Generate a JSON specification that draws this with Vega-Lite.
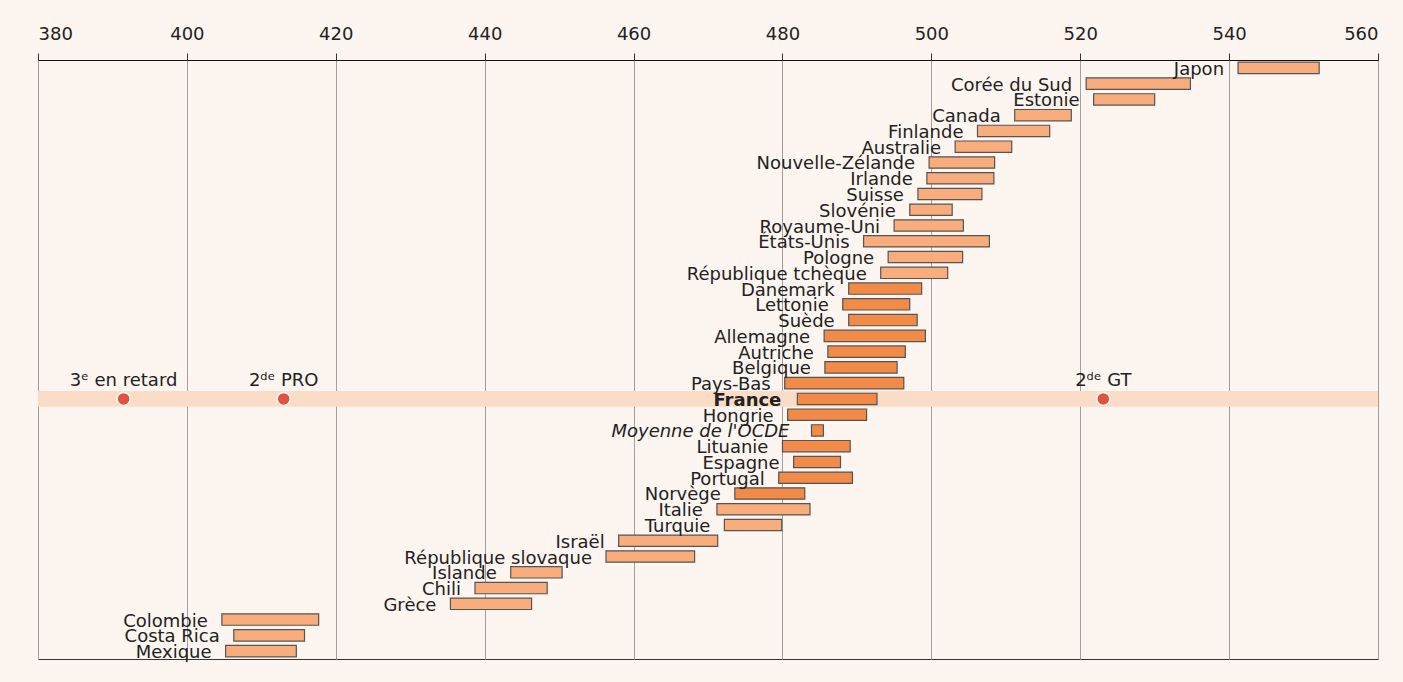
{
  "$schema": "https://vega.github.io/schema/vega-lite/v6.json",
  "width": 1340,
  "height": 599,
  "autosize": {"type": "none"},
  "padding": {"left": 38, "top": 60, "right": 25, "bottom": 23},
  "background": "#fdf5ef",
  "view": {"stroke": "#333333", "strokeWidth": 1},
  "config": {"font": "DejaVu Sans"},
  "datasets": {
    "pays": [
      {"pays": "Japon", "min": 541.2, "max": 552.1, "groupe": "écart"},
      {"pays": "Corée du Sud", "min": 520.8, "max": 534.8, "groupe": "écart"},
      {"pays": "Estonie", "min": 521.8, "max": 530.0, "groupe": "écart"},
      {"pays": "Canada", "min": 511.2, "max": 518.8, "groupe": "écart"},
      {"pays": "Finlande", "min": 506.2, "max": 515.9, "groupe": "écart"},
      {"pays": "Australie", "min": 503.2, "max": 510.8, "groupe": "écart"},
      {"pays": "Nouvelle-Zélande", "min": 499.7, "max": 508.5, "groupe": "écart"},
      {"pays": "Irlande", "min": 499.4, "max": 508.4, "groupe": "écart"},
      {"pays": "Suisse", "min": 498.2, "max": 506.8, "groupe": "écart"},
      {"pays": "Slovénie", "min": 497.1, "max": 502.8, "groupe": "écart"},
      {"pays": "Royaume-Uni", "min": 495.0, "max": 504.3, "groupe": "écart"},
      {"pays": "États-Unis", "min": 490.9, "max": 507.8, "groupe": "écart"},
      {"pays": "Pologne", "min": 494.2, "max": 504.2, "groupe": "écart"},
      {"pays": "République tchèque", "min": 493.2, "max": 502.2, "groupe": "écart"},
      {"pays": "Danemark", "min": 488.9, "max": 498.7, "groupe": "proche"},
      {"pays": "Lettonie", "min": 488.1, "max": 497.1, "groupe": "proche"},
      {"pays": "Suède", "min": 488.9, "max": 498.1, "groupe": "proche"},
      {"pays": "Allemagne", "min": 485.6, "max": 499.2, "groupe": "proche"},
      {"pays": "Autriche", "min": 486.1, "max": 496.5, "groupe": "proche"},
      {"pays": "Belgique", "min": 485.7, "max": 495.4, "groupe": "proche"},
      {"pays": "Pays-Bas", "min": 480.3, "max": 496.3, "groupe": "proche"},
      {"pays": "France", "min": 482.0, "max": 492.7, "groupe": "proche"},
      {"pays": "Hongrie", "min": 480.7, "max": 491.3, "groupe": "proche"},
      {"pays": "Moyenne de l'OCDE", "min": 483.9, "max": 485.5, "groupe": "proche"},
      {"pays": "Lituanie", "min": 480.0, "max": 489.1, "groupe": "proche"},
      {"pays": "Espagne", "min": 481.5, "max": 487.8, "groupe": "proche"},
      {"pays": "Portugal", "min": 479.5, "max": 489.4, "groupe": "proche"},
      {"pays": "Norvège", "min": 473.6, "max": 483.0, "groupe": "proche"},
      {"pays": "Italie", "min": 471.2, "max": 483.7, "groupe": "écart"},
      {"pays": "Turquie", "min": 472.2, "max": 479.9, "groupe": "écart"},
      {"pays": "Israël", "min": 458.0, "max": 471.3, "groupe": "écart"},
      {"pays": "République slovaque", "min": 456.3, "max": 468.2, "groupe": "écart"},
      {"pays": "Islande", "min": 443.5, "max": 450.4, "groupe": "écart"},
      {"pays": "Chili", "min": 438.7, "max": 448.4, "groupe": "écart"},
      {"pays": "Grèce", "min": 435.4, "max": 446.3, "groupe": "écart"},
      {"pays": "Colombie", "min": 404.7, "max": 417.7, "groupe": "écart"},
      {"pays": "Costa Rica", "min": 406.3, "max": 415.8, "groupe": "écart"},
      {"pays": "Mexique", "min": 405.2, "max": 414.7, "groupe": "écart"}
    ],
    "classes": [
      {"pays": "France", "classe": "3ᵉ en retard", "score": 391.5},
      {"pays": "France", "classe": "2ᵈᵉ PRO", "score": 413.0},
      {"pays": "France", "classe": "2ᵈᵉ GT", "score": 523.1}
    ]
  },
  "data": {"name": "pays"},
  "encoding": {
    "y": {
      "field": "pays", "type": "nominal", "sort": null,
      "scale": {
        "domain": ["Japon", "Corée du Sud", "Estonie", "Canada", "Finlande", "Australie", "Nouvelle-Zélande", "Irlande", "Suisse", "Slovénie", "Royaume-Uni", "États-Unis", "Pologne", "République tchèque", "Danemark", "Lettonie", "Suède", "Allemagne", "Autriche", "Belgique", "Pays-Bas", "France", "Hongrie", "Moyenne de l'OCDE", "Lituanie", "Espagne", "Portugal", "Norvège", "Italie", "Turquie", "Israël", "République slovaque", "Islande", "Chili", "Grèce", "Colombie", "Costa Rica", "Mexique"],
        "paddingInner": 0, "paddingOuter": 0
      },
      "axis": null
    }
  },
  "layer": [
    {
      "transform": [{"filter": "datum.pays === 'France'"}],
      "mark": {"type": "rect", "color": "#fbdcc6"},
      "encoding": {
        "x": {"datum": 380, "type": "quantitative"},
        "x2": {"datum": 560}
      }
    },
    {
      "mark": {"type": "bar", "height": {"band": 0.72}, "stroke": "#555555", "strokeWidth": 1.2},
      "encoding": {
        "x": {
          "field": "min", "type": "quantitative",
          "scale": {"domain": [380, 560], "nice": false, "zero": false},
          "axis": {
            "orient": "top", "values": [380, 400, 420, 440, 460, 480, 500, 520, 540, 560],
            "title": null, "grid": true, "gridColor": "#a0a0a0", "gridWidth": 1,
            "domainColor": "#111111", "domainWidth": 1.2,
            "tickColor": "#333333", "tickSize": 7,
            "labelFontSize": 18, "labelColor": "#222222", "labelPadding": 10,
            "labelFont": "DejaVu Sans"
          }
        },
        "x2": {"field": "max"},
        "color": {
          "field": "groupe", "type": "nominal",
          "scale": {"domain": ["écart", "proche"], "range": ["#f9ad7d", "#f28a48"]},
          "legend": null
        }
      }
    },
    {
      "transform": [{"filter": "datum.pays !== 'France' && datum.pays !== \"Moyenne de l'OCDE\""}],
      "mark": {"type": "text", "align": "right", "baseline": "alphabetic", "dx": -14, "dy": 7, "fontSize": 18, "color": "#222222", "font": "DejaVu Sans"},
      "encoding": {
        "x": {"field": "min", "type": "quantitative"},
        "text": {"field": "pays"}
      }
    },
    {
      "transform": [{"filter": "datum.pays === 'France'"}],
      "mark": {"type": "text", "align": "right", "baseline": "alphabetic", "dx": -16, "dy": 7, "fontSize": 18, "fontWeight": "bold", "color": "#222222", "font": "DejaVu Sans"},
      "encoding": {
        "x": {"field": "min", "type": "quantitative"},
        "text": {"field": "pays"}
      }
    },
    {
      "transform": [{"filter": "datum.pays === \"Moyenne de l'OCDE\""}],
      "mark": {"type": "text", "align": "right", "baseline": "alphabetic", "dx": -22, "dy": 7, "fontSize": 18, "fontStyle": "italic", "color": "#222222", "font": "DejaVu Sans"},
      "encoding": {
        "x": {"field": "min", "type": "quantitative"},
        "text": {"field": "pays"}
      }
    },
    {
      "data": {"name": "classes"},
      "mark": {"type": "point", "filled": true, "size": 170, "color": "#e1533d", "stroke": "#ffffff", "strokeWidth": 1.5, "opacity": 1},
      "encoding": {
        "x": {"field": "score", "type": "quantitative"}
      }
    },
    {
      "data": {"name": "classes"},
      "mark": {"type": "text", "align": "center", "baseline": "alphabetic", "dy": -13, "fontSize": 18, "color": "#222222", "font": "DejaVu Sans"},
      "encoding": {
        "x": {"field": "score", "type": "quantitative"},
        "text": {"field": "classe"}
      }
    }
  ]
}
